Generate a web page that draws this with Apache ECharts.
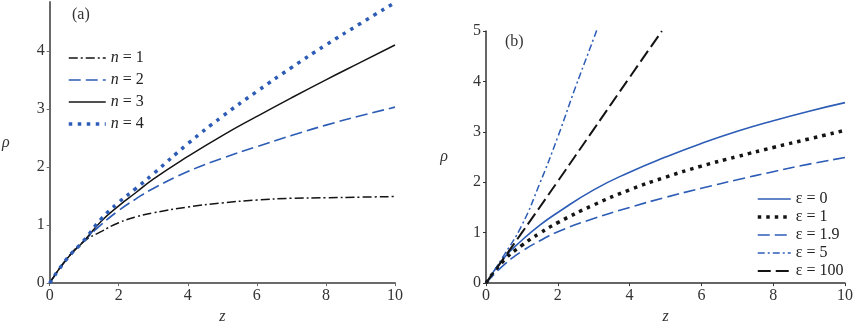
<!DOCTYPE html>
<html lang="en" style="height: 100%">
<head>
    <meta charset="UTF-8">
    <title>rho vs z</title>
    <script src="https://cdn.jsdelivr.net/npm/echarts@6/dist/echarts.min.js"></script>
</head>
<body style="height: 100%; margin: 0; background: #fff">
    <div id="main" style="width: 856px; height: 330px"></div>
    <script>
        // panel (a): rho(z) for n = 1..4
        var zA = [0, 0.5, 1, 1.5, 2, 2.5, 3, 4, 5, 6, 7, 8, 9, 10];
        var n1 = [0, 0.42, 0.72, 0.89, 1.04, 1.14, 1.21, 1.31, 1.38, 1.43, 1.46, 1.47, 1.48, 1.49];
        var n2 = [0, 0.42, 0.73, 1.01, 1.25, 1.45, 1.63, 1.92, 2.15, 2.35, 2.54, 2.72, 2.88, 3.03];
        var n3 = [0, 0.42, 0.73, 1.07, 1.33, 1.56, 1.79, 2.18, 2.54, 2.87, 3.19, 3.5, 3.8, 4.1];
        var n4 = [0, 0.42, 0.74, 1.11, 1.39, 1.63, 1.88, 2.4, 2.87, 3.3, 3.71, 4.1, 4.47, 4.83];

        // panel (b): rho(z) for several epsilon
        var zB = [0, 0.5, 1, 1.5, 2, 3, 4, 5, 6, 7, 8, 9, 10];
        var e0 = [0, 0.5, 0.85, 1.15, 1.4, 1.85, 2.2, 2.5, 2.77, 3.01, 3.22, 3.41, 3.58];
        var e1 = [0, 0.45, 0.75, 0.99, 1.2, 1.55, 1.85, 2.1, 2.32, 2.51, 2.69, 2.86, 3.03];
        var e19 = [0, 0.36, 0.63, 0.84, 1.02, 1.28, 1.5, 1.7, 1.88, 2.05, 2.21, 2.36, 2.49];
        var zE5 = [0, 0.5, 1, 1.5, 2, 2.5, 3, 3.1];
        var e5 = [0, 0.55, 1.15, 1.98, 2.9, 3.9, 4.85, 5.05];
        var zE100 = [0, 1, 2, 3, 4, 4.9];
        var e100 = [0, 1.0, 2.02, 3.05, 4.08, 5.0];

        var namesA = ['n = 1', 'n = 2', 'n = 3', 'n = 4'];
        var namesB = ['ε = 0', 'ε = 1', 'ε = 1.9', 'ε = 5', 'ε = 100'];
        var ticksA = [0, 1, 2, 3, 4];

        var blue = '#2c5cb5';
        var black = '#141414';
        var serif = 'Liberation Serif';

        // line width and dash of each curve, same order as the names
        var widthA = [1.5, 1.6, 1.5, 3.5];
        var dashA = [[9, 3, 2, 3], [12, 5], 'solid', [3.5, 5.5]];
        var colorA = [black, blue, black, blue];
        var widthB = [1.6, 3.5, 1.6, 1.5, 2];
        var dashB = ['solid', [3.5, 5], [12, 5], [7, 3, 2, 3], [13, 5]];
        var colorB = [blue, black, blue, blue, black];

        var legendText = {
            fontFamily: serif, fontSize: 16, color: '#222',
            rich: { i: { fontFamily: serif, fontStyle: 'italic', fontSize: 16, color: '#222' } }
        };

        function pairs(xs, ys) {
            return xs.map(function (x, i) { return [x, ys[i]]; });
        }

        function xAx(idx, col, w) {
            return {
                type: 'value', gridIndex: idx, min: 0, max: 10, interval: 2,
                name: 'z', nameLocation: 'middle', nameGap: 25,
                nameTextStyle: { fontFamily: serif, fontStyle: 'italic', fontSize: 16, color: '#333' },
                axisLine: { lineStyle: { color: col, width: w } },
                axisTick: { show: true, length: 3, lineStyle: { color: col } },
                axisLabel: { fontFamily: serif, fontSize: 16, color: '#333', margin: 5 },
                splitLine: { show: false }
            };
        }

        function line(name, xi, xs, ys, color, width, type) {
            return {
                name: name, type: 'line', xAxisIndex: xi, yAxisIndex: xi,
                data: pairs(xs, ys), smooth: 0.5, symbol: 'none', silent: true,
                lineStyle: { color: color, width: width, type: type, cap: 'butt' },
                itemStyle: { color: color }
            };
        }

        function legendItems(names, widths, dashes, colors) {
            return names.map(function (n, i) {
                return {
                    name: n,
                    lineStyle: { width: widths[i], type: dashes[i], color: colors[i] },
                    textStyle: legendText
                };
            });
        }

        var myChart = echarts.init(document.getElementById('main'));

        var option = {
            animation: false,
            backgroundColor: '#fff',
            title: [
                { text: '(a)', left: 67, top: 2, textStyle: { fontFamily: serif, fontSize: 16, fontWeight: 'normal', color: '#333' } },
                { text: '(b)', left: 500, top: 29, textStyle: { fontFamily: serif, fontSize: 16, fontWeight: 'normal', color: '#333' } }
            ],
            grid: [
                { left: 48, right: 461, top: 2, bottom: 40 },
                { left: 486, right: 5, top: 31, bottom: 40 }
            ],
            xAxis: [xAx(0, '#6a6a6a', 2), xAx(1, '#333', 1.5)],
            yAxis: [
                {
                    type: 'value', gridIndex: 0, min: 0, max: 4.84, interval: 1,
                    name: 'ρ', nameLocation: 'middle', nameGap: 40, nameRotate: 0,
                    nameTextStyle: { fontFamily: serif, fontStyle: 'italic', fontSize: 16, color: '#333' },
                    axisLine: { show: true, lineStyle: { color: '#6a6a6a', width: 2 } },
                    axisTick: { show: true, length: 3, customValues: ticksA, lineStyle: { color: '#6a6a6a' } },
                    axisLabel: { fontFamily: serif, fontSize: 16, color: '#333', margin: 5, customValues: ticksA },
                    splitLine: { show: false }
                },
                {
                    type: 'value', gridIndex: 1, min: 0, max: 5, interval: 1,
                    name: 'ρ', nameLocation: 'middle', nameGap: 38, nameRotate: 0,
                    nameTextStyle: { fontFamily: serif, fontStyle: 'italic', fontSize: 16, color: '#333' },
                    axisLine: { show: true, lineStyle: { color: '#333', width: 1.5 } },
                    axisTick: { show: true, length: 3, lineStyle: { color: '#333' } },
                    axisLabel: { fontFamily: serif, fontSize: 16, color: '#333', margin: 5 },
                    splitLine: { show: false }
                }
            ],
            legend: [
                {
                    data: legendItems(namesA, widthA, dashA, colorA),
                    orient: 'vertical', left: 67, top: 50, padding: 0,
                    itemWidth: 37, itemHeight: 14, itemGap: 6,
                    itemStyle: { opacity: 0 },
                    formatter: function (name) { return '{i|n}' + name.slice(1); },
                    textStyle: legendText
                },
                {
                    data: legendItems(namesB, widthB, dashB, colorB),
                    orient: 'vertical', left: 756, top: 191, padding: 0,
                    itemWidth: 33, itemHeight: 14, itemGap: 2,
                    itemStyle: { opacity: 0 },
                    textStyle: legendText
                }
            ],
            series: namesA.map(function (n, i) {
                return line(n, 0, zA, [n1, n2, n3, n4][i], colorA[i], widthA[i], dashA[i]);
            }).concat([
                line(namesB[0], 1, zB, e0, colorB[0], widthB[0], dashB[0]),
                line(namesB[1], 1, zB, e1, colorB[1], widthB[1], dashB[1]),
                line(namesB[2], 1, zB, e19, colorB[2], widthB[2], dashB[2]),
                line(namesB[3], 1, zE5, e5, colorB[3], widthB[3], dashB[3]),
                line(namesB[4], 1, zE100, e100, colorB[4], widthB[4], dashB[4])
            ])
        };

        myChart.setOption(option);
        window.addEventListener('resize', myChart.resize);
    </script>
</body>
</html>
